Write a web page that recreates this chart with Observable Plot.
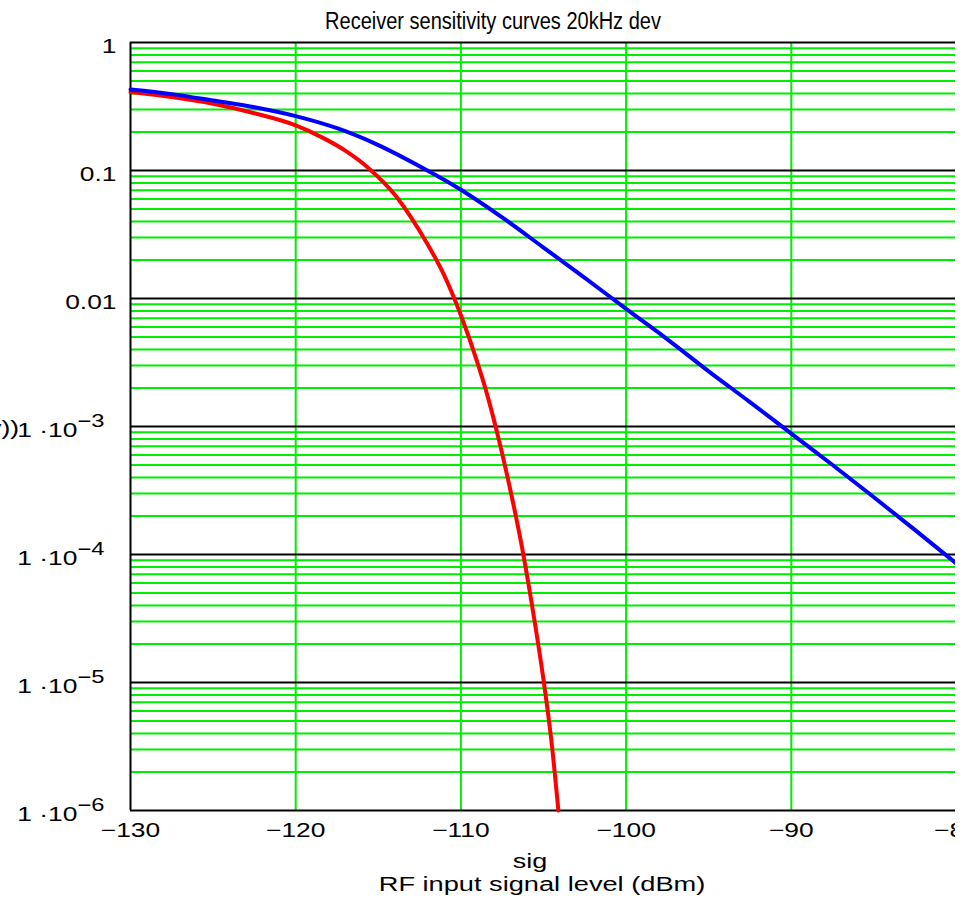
<!DOCTYPE html>
<html><head><meta charset="utf-8">
<script src="https://cdn.jsdelivr.net/npm/d3@7"></script>
<script src="https://cdn.jsdelivr.net/npm/@observablehq/plot@0.6"></script>
<style>
body{margin:0;background:#fff;}
#wrap{position:relative;width:955px;height:900px;overflow:hidden;font-family:"Liberation Sans",Arial,sans-serif;color:#000;background:#fff;}
#chart{position:absolute;left:0;top:0;}
.lbl{position:absolute;white-space:nowrap;font-size:20px;line-height:20px;text-align:center;}
</style></head><body>
<div id="wrap">
<div id="chart"></div>
<div class="lbl" style="left:293px;width:400px;top:10px;font-size:23px;line-height:23px;transform:scaleX(0.87)">Receiver sensitivity curves 20kHz dev</div>
<div class="lbl" style="left:-181px;width:200px;top:418px;text-align:right;transform-origin:100% 50%;transform:scaleX(1.32)">P(y))</div>
<div class="lbl" style="left:330px;width:400px;top:851px;transform:scaleX(1.35)">sig</div>
<div class="lbl" style="left:342px;width:400px;top:874px;transform:scaleX(1.36)">RF input signal level (dBm)</div>
</div>
<script>
// ---- data ----
const xTicks = [-130, -120, -110, -100, -90, -80];
const yDecades = [1, 0.1, 0.01, 1e-3, 1e-4, 1e-5, 1e-6];

const blueSig = [-130, -127.5, -125, -122.5, -120, -117.5, -115, -112.5, -110, -107.5, -105, -102.5, -100, -97.5, -95, -92.5, -90, -87.5, -85, -82.5, -80];
const blueBER = [0.43, 0.395, 0.352, 0.312, 0.266, 0.214, 0.158, 0.108, 0.0708, 0.043, 0.025, 0.0145, 0.0083, 0.0048, 0.0027, 0.00155, 0.00088, 0.0005, 0.00028, 0.000155, 0.000085];

const redSig = [-130, -127.5, -125, -122.5, -120, -118.5, -117, -115.5, -114, -113, -112, -111, -110.4, -110, -109, -108.5, -107.9, -107, -106.25, -105.5, -105, -104.5, -104.1];
const redBER = [0.41, 0.375, 0.332, 0.28, 0.225, 0.184, 0.143, 0.102, 0.0646, 0.0427, 0.0263, 0.0151, 0.01, 0.0074, 0.00316, 0.00195, 0.001, 0.000316, 0.000105, 0.000028, 0.0000105, 0.0000033, 0.000001];

// ---- derived tables ----
const blue = blueSig.map((s, i) => ({sig: s, p: blueBER[i]}));
const red = redSig.map((s, i) => ({sig: s, p: redBER[i]}));
const minor = [];
for (const d of yDecades.slice(1)) for (let m = 2; m <= 9; m++) minor.push(d * m);

const yFmt = v => v >= 0.01 ? String(v) : "1 \u00b710^\u2212" + Math.round(-Math.log10(v));
const xFmt = v => v < 0 ? "\u2212" + Math.abs(v) : String(v);

const GREEN = "#00ee00";
const chart = Plot.plot({
  width: 964,
  height: 900,
  marginLeft: 130,
  marginRight: 8,
  marginTop: 42,
  marginBottom: 90,
  style: {fontFamily: '"Liberation Sans", Arial, sans-serif', fontSize: "20px", background: "white", maxWidth: "none", color: "#000"},
  x: {domain: [-130, -80]},
  y: {type: "log", domain: [1e-6, 1]},
  marks: [
    Plot.ruleY(minor, {stroke: GREEN, strokeWidth: 2}),
    Plot.ruleX(xTicks.slice(1), {stroke: GREEN, strokeWidth: 2}),
    Plot.ruleY(yDecades, {stroke: "#000", strokeWidth: 2}),
    Plot.ruleX([-130], {stroke: "#000", strokeWidth: 2}),
    Plot.axisX({ticks: xTicks, tickSize: 0, tickPadding: 12, tickFormat: xFmt, label: null}),
    Plot.axisY({ticks: yDecades, tickSize: 0, tickPadding: 14, tickFormat: yFmt, label: null, dy: 4}),
    Plot.line(red, {x: "sig", y: "p", stroke: "#ff0000", strokeWidth: 4, curve: "monotone-x"}),
    Plot.line(blue, {x: "sig", y: "p", stroke: "#0000ff", strokeWidth: 4, curve: "monotone-x"})
  ]
});
chart.style.maxWidth = "none";
document.getElementById("chart").appendChild(chart);

const NS = "http://www.w3.org/2000/svg";
chart.querySelectorAll('g[aria-label="x-axis tick label"] text').forEach(t => {
  t.setAttribute("transform", (t.getAttribute("transform") || "") + " scale(1.32,1)");
});
chart.querySelectorAll('g[aria-label="y-axis tick label"] text').forEach(t => {
  const s = t.textContent;
  let tr = t.getAttribute("transform") || "";
  if (s.includes("^")) {
    const [base, exp] = s.split("^");
    t.textContent = "";
    const a = document.createElementNS(NS, "tspan");
    a.textContent = base;
    const b = document.createElementNS(NS, "tspan");
    b.setAttribute("dy", "-0.55em");
    b.setAttribute("font-size", "0.9em");
    b.textContent = exp;
    t.append(a, b);
    tr += " translate(-12,0)";
  }
  t.setAttribute("transform", tr + " scale(1.32,1)");
});
</script>
</body></html>
